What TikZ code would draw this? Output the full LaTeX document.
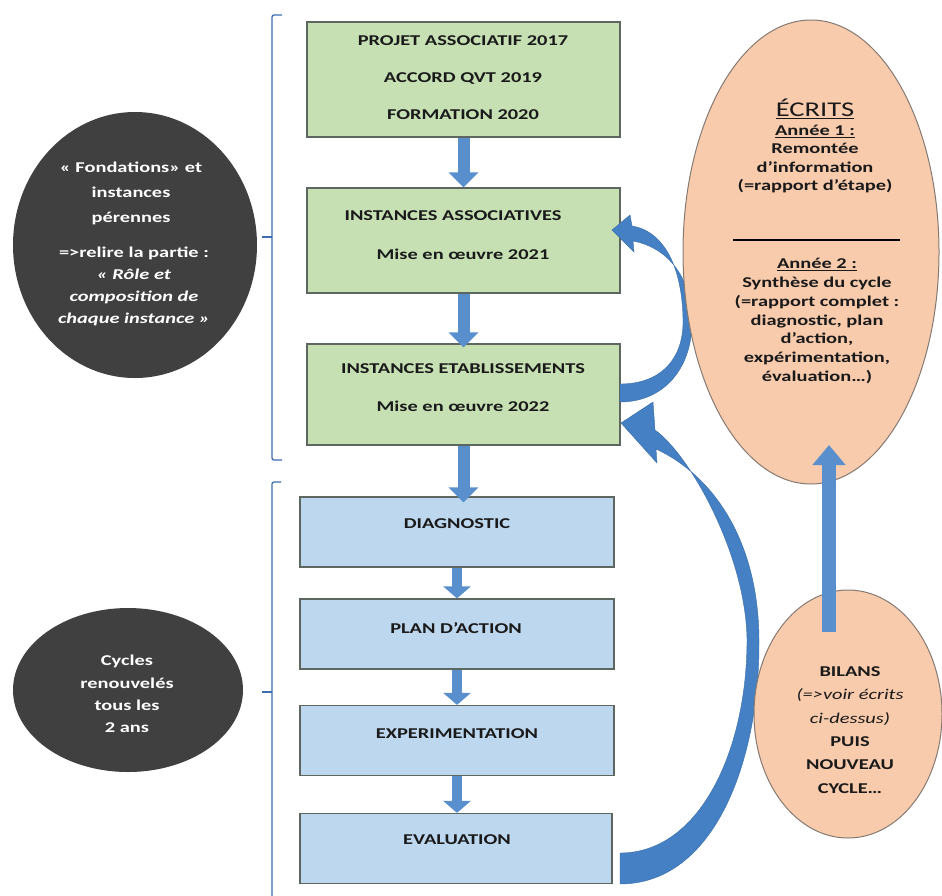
\documentclass[tikz,border=0pt]{standalone}
\usepackage{fontspec}
\setmainfont{Carlito}[FakeStretch=1.36]
\usetikzlibrary{arrows.meta,shapes.geometric}
\definecolor{gfill}{HTML}{C6E0B4}
\definecolor{bfill}{HTML}{BDD7EE}
\definecolor{ofill}{HTML}{F8CBAD}
\definecolor{dk}{HTML}{404040}
\definecolor{arr}{HTML}{5A8FCD}
\definecolor{carr}{HTML}{4480C3}
\definecolor{brk}{HTML}{3B6DB0}
\definecolor{edgec}{HTML}{5E6660}
\definecolor{oedge}{HTML}{857A72}
\definecolor{txt}{HTML}{1A1A1A}
\begin{document}
\begin{tikzpicture}[x=1pt,y=-1pt,
  greenbox/.style={draw=edgec, line width=1.2pt, fill=gfill, minimum width=313pt, inner sep=0pt},
  bluebox/.style={draw=edgec, line width=1.2pt, fill=bfill, minimum width=314pt, minimum height=70pt, inner sep=0pt},
  darkell/.style={ellipse, fill=dk, inner sep=0pt},
  orell/.style={ellipse, draw=oedge, line width=1pt, fill=ofill, inner sep=0pt},
  btxt/.style={font=\fontsize{15}{18}\selectfont\bfseries, text=txt, inner sep=0pt, align=center},
  wtxt/.style={text=white, inner sep=0pt, align=center},
  vbig/.style={arr, line width=12pt, -{Triangle[width=29pt,length=15pt]}},
  vsmall/.style={arr, line width=10pt, -{Triangle[width=27pt,length=12pt]}},
  bracket/.style={brk, line width=1.3pt, rounded corners=2pt},
  curvarrow/.style={fill=carr, draw=carr!85!black, line width=0.4pt}
]
\useasboundingbox (0,0) rectangle (942,895);

% brackets
\draw[bracket] (282,15) -- (272,15) -- (272,460) -- (282,460);
\draw[bracket] (272,237) -- (262,237);
\draw[bracket] (281,482) -- (272,482) -- (272,897);
\draw[bracket] (272,692) -- (262,692);

% green boxes
\node[greenbox, minimum height=115pt] (b1) at (463.5,79.5) {};
\node[greenbox, minimum height=105pt] (b2) at (463.5,240.5) {};
\node[greenbox, minimum height=101pt] (b3) at (463.5,394.5) {};
% blue boxes
\node[bluebox] (diag) at (457,532) {};
\node[bluebox] (plan) at (457,634) {};
\node[bluebox] (expe) at (457,740.5) {};
\node[bluebox, minimum width=312pt] (eval) at (456,848.5) {};

% dark ellipses
\node[darkell, minimum width=244pt, minimum height=266pt] (fond) at (135,245) {};
\node[darkell, minimum width=230pt, minimum height=164pt] (cyc) at (128,690) {};

% vertical arrows
\draw[vbig] (b1.south) -- (b2.north);
\draw[vbig] (b2.south) -- ([yshift=-4pt]b3.north);
\draw[vbig] (b3.south) -- ([yshift=-6pt]b3.south |- diag.north);
\draw[vsmall] (diag.south) -- (plan.north);
\draw[vsmall] (plan.south) -- (expe.north);
\draw[vsmall] (expe.south) -- (expe.south |- eval.north);

% curved arrow: instances etablissements -> instances associatives
\path[curvarrow] (620,402) .. controls (664,402) and (692,368) .. (692,322)
  .. controls (692,280) and (670,248) .. (633,241)
  -- (634,252) -- (612,230) -- (630,215) -- (632,226)
  .. controls (668,232) and (683,275) .. (683,322)
  .. controls (683,360) and (660,384) .. (620,384) -- cycle;

% curved arrow: evaluation -> instances etablissements
\path[curvarrow] (620,884) .. controls (715,884) and (759,760) .. (759,645)
  .. controls (760,540) and (712,475) .. (656,449)
  -- (657,463) -- (621,423) -- (653,402) -- (655,430)
  .. controls (690,455) and (746,555) .. (747,640)
  .. controls (747,750) and (700,853) .. (620,853) -- cycle;

% orange ellipses
\node[orell, minimum width=256pt, minimum height=464pt] (ecr) at (811,252) {};
\node[orell, minimum width=188pt, minimum height=248pt] (bil) at (848,714) {};

% up arrow
\coordinate (upS) at (829,632);
\coordinate (upE) at (829,445);
\draw[arr, line width=14pt, -{Triangle[width=32pt,length=20pt]}] (upS) -- (upE);

% separator line
\draw[line width=1.3pt, black] (733,240) -- (900,240);

% texts in green boxes
\node[btxt, font=\fontsize{15}{37}\selectfont\bfseries] (t1) at (463,77.5) {PROJET ASSOCIATIF 2017\\ACCORD QVT 2019\\FORMATION 2020};
\node[btxt] (t2a) at (453,216) {INSTANCES ASSOCIATIVES};
\node[btxt] (t2b) at (463,254) {Mise en œuvre 2021};
\node[btxt] (t3a) at (463,369) {INSTANCES ETABLISSEMENTS};
\node[btxt] (t3b) at (463,406) {Mise en œuvre 2022};
% texts in blue boxes
\node[btxt] (td) at (457,524) {DIAGNOSTIC};
\node[btxt] (tp) at (456,628) {PLAN D’ACTION};
\node[btxt] (te) at (457,734) {EXPERIMENTATION};
\node[btxt] (tv) at (457,840) {EVALUATION};

% dark ellipse texts
\node[wtxt, font=\fontsize{15}{25}\selectfont\bfseries] (fa) at (131,193.5) {« Fondations» et\\instances\\pérennes};
\node[wtxt, font=\fontsize{15}{22}\selectfont\bfseries] (fb) at (134,286.5) {=>relire la partie :\\\textit{« Rôle et}\\\textit{composition de}\\\textit{chaque instance »}};
\node[wtxt, font=\fontsize{15}{22.3}\selectfont\bfseries] (ct) at (127,694) {Cycles\\renouvelés\\tous les\\2 ans};

% ecrits texts
\node[btxt, font=\fontsize{21}{24}\selectfont] (et) at (815,109) {\underline{ÉCRITS}};
\node[btxt, font=\fontsize{15}{18.3}\selectfont\bfseries] (ea) at (815,159) {\underline{Année 1 :}\\Remontée\\d’information\\(=rapport d’étape)};
\node[btxt, font=\fontsize{15}{18.8}\selectfont\bfseries] (eb) at (817,321) {\underline{Année 2 :}\\Synthèse du cycle\\(=rapport complet :\\diagnostic, plan\\d’action,\\expérimentation,\\évaluation…)};

% bilans text
\node[btxt, font=\fontsize{15}{23.4}\selectfont\bfseries] (bt) at (850,730) {BILANS\\{\mdseries\itshape (=>voir écrits}\\{\mdseries\itshape ci-dessus)}\\PUIS\\NOUVEAU\\CYCLE…};
\end{tikzpicture}
\end{document}
